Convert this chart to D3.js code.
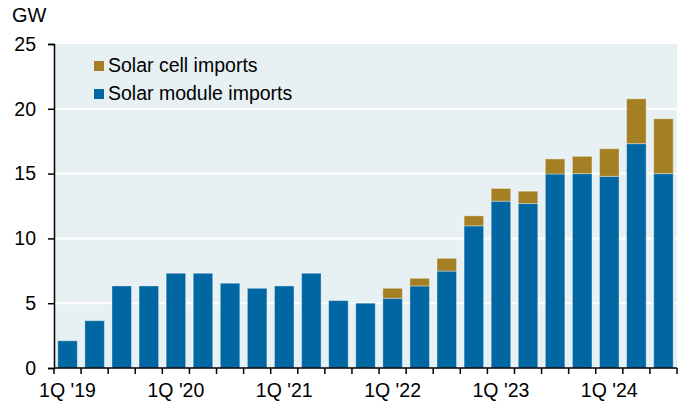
<!DOCTYPE html>
<html>
<head>
<meta charset="utf-8">
<script src="https://cdn.jsdelivr.net/npm/d3@7"></script>
<style>
  html, body { margin: 0; padding: 0; background: #ffffff; }
  svg { display: block; }
  text { font-family: Arial, "Liberation Sans", Helvetica, sans-serif; fill: #000; }
</style>
</head>
<body>
<svg id="chart" width="682" height="402"></svg>
<script>
// Quarterly US solar imports, GW
const quarters = [
  "1Q '19", "2Q '19", "3Q '19", "4Q '19",
  "1Q '20", "2Q '20", "3Q '20", "4Q '20",
  "1Q '21", "2Q '21", "3Q '21", "4Q '21",
  "1Q '22", "2Q '22", "3Q '22", "4Q '22",
  "1Q '23", "2Q '23", "3Q '23", "4Q '23",
  "1Q '24", "2Q '24", "3Q '24"
];
const moduleImports = [2.1, 3.65, 6.33, 6.33, 7.31, 7.31, 6.54, 6.15, 6.33, 7.31, 5.2, 5.0,
  5.38, 6.33, 7.48, 10.97, 12.87, 12.69, 14.97, 15.0, 14.79, 17.31, 15.0];
const cellImports = [0, 0, 0, 0, 0, 0, 0, 0, 0, 0, 0, 0,
  0.77, 0.59, 0.98, 0.77, 0.98, 0.95, 1.16, 1.33, 2.13, 3.46, 4.23];
const yTicks = [0, 5, 10, 15, 20, 25];
const xLabelQuarters = ["1Q '19", "1Q '20", "1Q '21", "1Q '22", "1Q '23", "1Q '24"];
const seriesNames = ["Solar cell imports", "Solar module imports"];
const seriesKeys = ["cell", "module"];
const colors = { module: "#0067a3", cell: "#a57f24" };

const rows = quarters.map((q, i) => ({ q, module: moduleImports[i], cell: cellImports[i] }));

const svg = d3.select("#chart");
const margin = { left: 54, right: 5, top: 44, bottom: 34 };
const W = 682, H = 402;
const x0 = margin.left, x1 = W - margin.right;
const y0 = H - margin.bottom, y1 = margin.top;
const fontSize = 19.5;

const x = d3.scaleBand().domain(quarters).range([x0, x1]).paddingInner(0.28).paddingOuter(0.14);
const y = d3.scaleLinear().domain([0, 25]).range([y0, y1]);

// plot background
svg.append("rect").attr("x", x0).attr("y", y1).attr("width", x1 - x0).attr("height", y0 - y1)
  .attr("fill", "#e7f0f3");

// white horizontal grid
svg.append("g").selectAll("line").data(yTicks.filter(t => t > 0 && t < 25)).join("line")
  .attr("x1", x0).attr("x2", x1).attr("y1", d => y(d)).attr("y2", d => y(d))
  .attr("stroke", "#ffffff").attr("stroke-width", 2);

// stacked bars: module at the bottom, cells on top
const stack = d3.stack().keys(["module", "cell"])(rows);
svg.append("g").selectAll("g").data(stack).join("g")
  .attr("fill", d => colors[d.key])
  .selectAll("rect").data(d => d.filter(p => p[1] - p[0] > 0)).join("rect")
  .attr("x", d => x(d.data.q))
  .attr("width", x.bandwidth())
  .attr("y", d => y(d[1]))
  .attr("height", d => y(d[0]) - y(d[1]))
  .attr("stroke", "rgba(255,255,255,0.35)")
  .attr("stroke-width", 1);

// y axis
const yAxis = d3.axisLeft(y).tickValues(yTicks).tickSize(6).tickPadding(12);
const gy = svg.append("g").attr("transform", `translate(${x0},0)`).call(yAxis);
gy.select(".domain").attr("stroke", "#000").attr("stroke-width", 1.5);
gy.selectAll(".tick line").attr("stroke", "#000").attr("stroke-width", 1.5);
gy.selectAll(".tick text").attr("font-size", fontSize)
  .attr("font-family", "Arial, 'Liberation Sans', sans-serif").attr("fill", "#000");

// x axis: ticks on band boundaries, labels under each first quarter
const gx = svg.append("g").attr("transform", `translate(0,${y0})`);
gx.append("line").attr("x1", x0).attr("x2", x1).attr("y1", 0).attr("y2", 0)
  .attr("stroke", "#000").attr("stroke-width", 1.5);
const step = x.step();
const boundaries = d3.range(quarters.length + 1).map(i => x0 + i * step);
gx.selectAll("line.tk").data(boundaries).join("line").attr("class", "tk")
  .attr("x1", d => d).attr("x2", d => d).attr("y1", 0).attr("y2", 6)
  .attr("stroke", "#000").attr("stroke-width", 1.5);
gx.selectAll("text").data(xLabelQuarters).join("text")
  .attr("x", d => x(d) + x.bandwidth() / 2)
  .attr("y", 29)
  .attr("text-anchor", "middle")
  .attr("font-size", fontSize)
  .text(d => d);

// unit label
svg.append("text").attr("x", 12).attr("y", 22).attr("font-size", 20).text("GW");

// legend
const legend = svg.append("g");
seriesNames.forEach((name, i) => {
  const gy0 = 61 + i * 28;
  legend.append("rect").attr("x", 94).attr("y", gy0).attr("width", 10).attr("height", 10)
    .attr("fill", colors[seriesKeys[i]]);
  legend.append("text").attr("x", 108).attr("y", gy0 + 11).attr("font-size", fontSize).text(name);
});
</script>
</body>
</html>
